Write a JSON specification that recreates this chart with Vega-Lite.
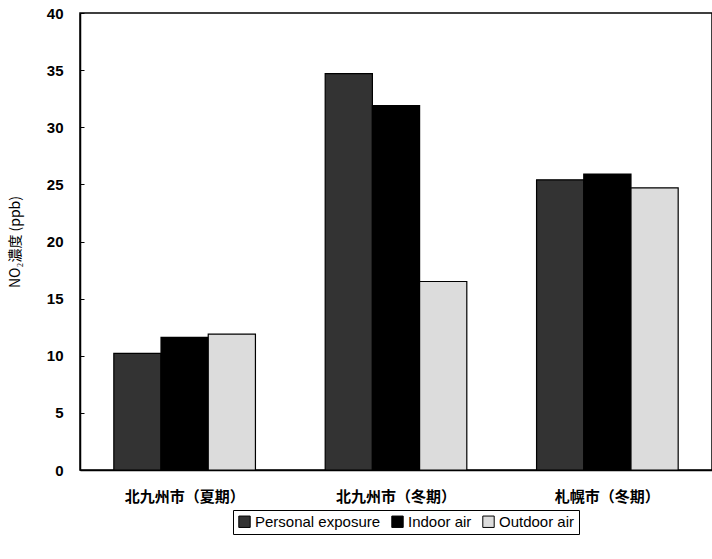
{
  "$schema": "https://vega.github.io/schema/vega-lite/v6.json",
  "width": 632,
  "height": 457,
  "autosize": "none",
  "padding": {"left": 80, "top": 13, "right": 0, "bottom": 89},
  "background": "white",
  "data": {
    "values": [
      {"site": "北九州市（夏期）", "series": "Personal exposure", "value": 10.2},
      {"site": "北九州市（夏期）", "series": "Indoor air", "value": 11.6},
      {"site": "北九州市（夏期）", "series": "Outdoor air", "value": 11.9},
      {"site": "北九州市（冬期）", "series": "Personal exposure", "value": 34.7},
      {"site": "北九州市（冬期）", "series": "Indoor air", "value": 31.9},
      {"site": "北九州市（冬期）", "series": "Outdoor air", "value": 16.5},
      {"site": "札幌市（冬期）", "series": "Personal exposure", "value": 25.4},
      {"site": "札幌市（冬期）", "series": "Indoor air", "value": 25.9},
      {"site": "札幌市（冬期）", "series": "Outdoor air", "value": 24.7}
    ]
  },
  "config": {
    "view": {"stroke": "black", "strokeWidth": 1.5},
    "font": "Liberation Sans"
  },
  "mark": {"type": "bar", "stroke": "black", "strokeWidth": 1.2},
  "encoding": {
    "x": {
      "field": "site",
      "type": "nominal",
      "sort": ["北九州市（夏期）", "北九州市（冬期）", "札幌市（冬期）"],
      "scale": {"paddingInner": 0.33, "paddingOuter": 0.16},
      "axis": {
        "title": null,
        "labelAngle": 0,
        "ticks": false,
        "domainColor": "black",
        "domainWidth": 1.5,
        "labelFont": "Noto Sans CJK JP",
        "labelFontWeight": "bold",
        "labelFontSize": 15,
        "labelColor": "black",
        "labelPadding": 19
      }
    },
    "xOffset": {
      "field": "series",
      "type": "nominal",
      "sort": ["Personal exposure", "Indoor air", "Outdoor air"],
      "scale": {"paddingInner": 0, "paddingOuter": 0}
    },
    "y": {
      "field": "value",
      "type": "quantitative",
      "scale": {"domain": [0, 40], "nice": false},
      "axis": {
        "title": "NO₂濃度 (ppb)",
        "titleFont": "Noto Sans CJK JP",
        "titleFontSize": 14,
        "titleFontWeight": "normal",
        "titleColor": "black",
        "titlePadding": 24,
        "values": [0, 5, 10, 15, 20, 25, 30, 35, 40],
        "grid": false,
        "domainColor": "black",
        "domainWidth": 1.5,
        "tickColor": "black",
        "tickSize": -4,
        "labelPadding": 21,
        "labelFontSize": 15,
        "labelFontWeight": "bold",
        "labelColor": "black"
      }
    },
    "fill": {
      "field": "series",
      "type": "nominal",
      "sort": ["Personal exposure", "Indoor air", "Outdoor air"],
      "scale": {
        "domain": ["Personal exposure", "Indoor air", "Outdoor air"],
        "range": ["#333333", "#000000", "#dcdcdc"]
      },
      "legend": {
        "title": null,
        "orient": "none",
        "legendX": 153,
        "legendY": 497,
        "direction": "horizontal",
        "strokeColor": "black",
        "padding": 4,
        "symbolType": "square",
        "symbolSize": 130,
        "symbolStrokeColor": "black",
        "symbolStrokeWidth": 1,
        "labelFontSize": 15,
        "labelColor": "black",
        "labelOffset": 3,
        "columnPadding": 8
      }
    }
  }
}
